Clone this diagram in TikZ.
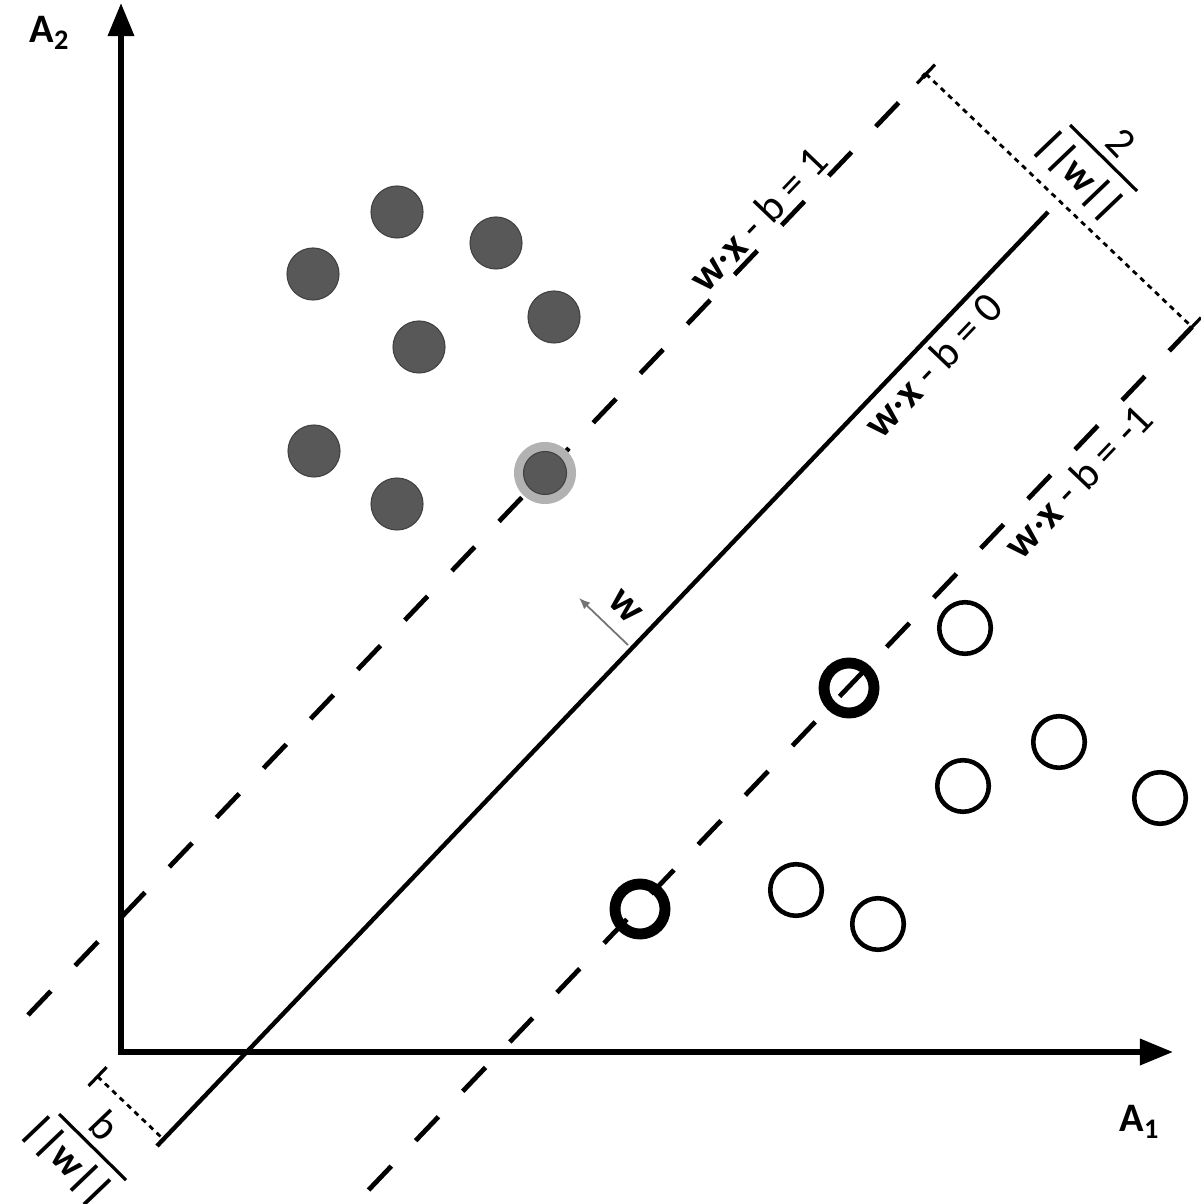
\documentclass[tikz,border=0pt]{standalone}
\usepackage{fontspec}
\setmainfont{Carlito}
\usetikzlibrary{arrows.meta}
\definecolor{darkpt}{RGB}{88,88,88}
\definecolor{halo}{RGB}{178,178,178}
\begin{document}
\begin{tikzpicture}[x=0.01cm,y=-0.01cm,
  axisline/.style={line width=1.6pt, line join=miter,
    {Triangle[length=9.4pt,width=7.2pt]}-{Triangle[length=9.4pt,width=7.2pt]}},
  hyper/.style={line width=1.25pt},
  marginline/.style={line width=1.35pt, dash pattern=on 9.4pt off 10pt},
  dimline/.style={line width=0.8pt, dash pattern=on 1.5pt off 1.4pt},
  tickmark/.style={line width=0.9pt},
  lbl/.style={font=\fontsize{12.2}{14}\selectfont, inner sep=0pt},
  denlbl/.style={font=\fontsize{11.5}{13}\selectfont\bfseries, inner sep=0pt},
  axlbl/.style={font=\fontsize{11.5}{13}\selectfont\bfseries, inner sep=0pt},
  filledpt/.style={circle, fill=darkpt, draw=black!75, line width=0.3pt, minimum size=0.52cm, inner sep=0pt},
  svfilled/.style={circle, fill=darkpt, draw=black!75, line width=0.3pt, minimum size=0.43cm, inner sep=0pt},
  haloring/.style={circle, fill=halo, minimum size=0.62cm, inner sep=0pt},
  openpt/.style={circle, draw=black, line width=1.3pt, minimum size=0.515cm, inner sep=0pt},
  svopen/.style={circle, draw=black, line width=3.1pt, minimum size=0.5cm, inner sep=0pt},
  warrow/.style={draw=black!55, line width=0.5pt, -{Latex[length=3.2pt,width=2.6pt]}},
]
\path[use as bounding box] (0,0) rectangle (1200,1204);

% axes
\coordinate (O) at (121,1052);
\coordinate (ytip) at (121,3);
\coordinate (xtip) at (1173,1052);
\draw[axisline] (ytip) -- (O) -- (xtip);
\node[axlbl] (A2) at (50,33) {A\textsubscript{2}};
\node[axlbl] (A1) at (1140,1122) {A\textsubscript{1}};

% hyperplane and margins
\coordinate (s1) at (1048,212);
\coordinate (s2) at (157,1146);
\draw[hyper] (s1) -- (s2);

\coordinate (u1) at (28,1015);
\coordinate (u2) at (926,74);
\draw[marginline] (u1) -- (u2);

\coordinate (l1) at (1192,327);
\coordinate (l2) at (359,1200);
\draw[marginline] (l1) -- (l2);

% margin width dimension
\draw[dimline] (u2) -- (l1);
\coordinate (t1a) at (917,83.4);  \coordinate (t1b) at (935,64.6);
\coordinate (t2a) at (1183,336.4); \coordinate (t2b) at (1201,317.6);
\draw[tickmark] (t1a) -- (t1b);
\draw[tickmark] (t2a) -- (t2b);

\coordinate (fb1) at (1070,125);
\coordinate (fb2) at (1137,191);
\draw[line width=0.9pt] (fb1) -- (fb2);
\node[lbl, rotate=-46.3] (num2) at (1121,143) {2};
\node[denlbl, rotate=-46.3] (den2) at (1079,176) {||w||};

% offset dimension
\coordinate (d1) at (97.6,1076.5);
\coordinate (d2) at (163.7,1139.5);
\draw[dimline] (d1) -- (d2);
\coordinate (t3a) at (88.6,1085.9); \coordinate (t3b) at (106.6,1067.1);
\draw[tickmark] (t3a) -- (t3b);

\coordinate (bb1) at (59,1114);
\coordinate (bb2) at (126,1180);
\draw[line width=0.9pt] (bb1) -- (bb2);
\node[lbl, rotate=-46.3] (numb) at (105,1125) {b};
\node[denlbl, rotate=-46.3] (denb) at (67,1161) {||w||};

% normal vector w
\coordinate (wb) at (628,645);
\coordinate (wt) at (579,598);
\draw[warrow] (wb) -- (wt);
\node[lbl, rotate=-46.3] (wl) at (625,607) {\textbf{w}};

% line labels
\node[lbl, rotate=46.3] (lab1) at (758,219) {\textbf{w}·\textbf{x} - b = 1};
\node[lbl, rotate=46.3] (lab0) at (933,365) {\textbf{w}·\textbf{x} - b = 0};
\node[lbl, rotate=46.3] (labm1) at (1078,481) {\textbf{w}·\textbf{x} - b = -1};

% filled class
\node[filledpt] (f1) at (397,212) {};
\node[filledpt] (f2) at (496,243) {};
\node[filledpt] (f3) at (313,274) {};
\node[filledpt] (f4) at (554,317) {};
\node[filledpt] (f5) at (419,347) {};
\node[filledpt] (f6) at (314,451) {};
\node[filledpt] (f7) at (397,504) {};
\node[haloring] (h8) at (545,473) {};
\node[svfilled] (f8) at (545,473) {};

% open class
\node[openpt] (o1) at (965,628) {};
\node[openpt] (o2) at (1059,742) {};
\node[openpt] (o3) at (963,786) {};
\node[openpt] (o4) at (1160,798) {};
\node[openpt] (o5) at (796,890) {};
\node[openpt] (o6) at (878,924) {};
\node[svopen] (o7) at (849,688) {};
\node[svopen] (o8) at (640,909) {};
\end{tikzpicture}
\end{document}
